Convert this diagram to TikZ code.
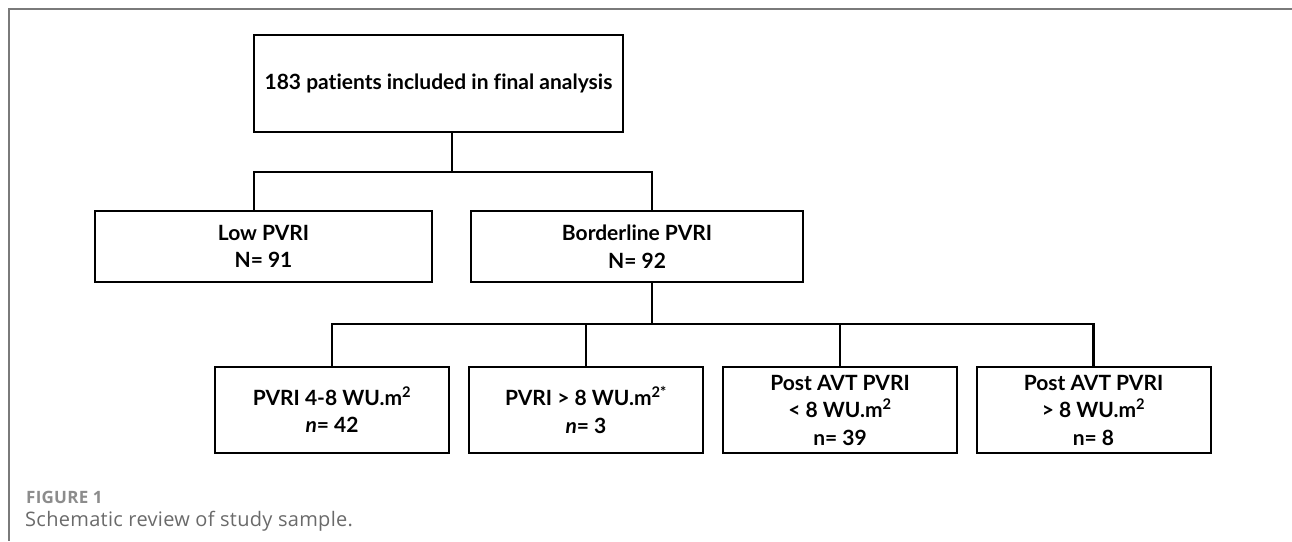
\documentclass[tikz,border=0pt]{standalone}
\usepackage{fontspec}
\setmainfont{Lato}[Ligatures=NoCommon]
\newfontfamily\capfont{Open Sans}[LetterSpace=1.5]
\usetikzlibrary{positioning}
\definecolor{framegray}{HTML}{7A7A7A}
\definecolor{figgray}{HTML}{8C8C8C}
\definecolor{capgray}{HTML}{6A6A6A}

\begin{document}
\begin{tikzpicture}[x=1pt,y=-1pt,
        box/.style={draw,line width=2pt,align=center,inner sep=0pt,
            font=\fontsize{21}{27.5}\selectfont\bfseries},
        low/.style={box,minimum width=234pt,minimum height=86pt},
        link/.style={line width=2.6pt}]
		\useasboundingbox (0,0) rectangle (1292,541);
		\draw [framegray,line width=1.2pt] (1292,9) -- (9,9) -- (9,541);
		\node [box,minimum width=369pt,minimum height=97pt] (1) at (438.5,83.5) {183 patients included in final analysis};
		\node [box,minimum width=337pt,minimum height=71pt] (2) at (263.5,246.5) {Low PVRI\\N= 91};
		\node [box,minimum width=332pt,minimum height=71pt] (3) at (637,246.5) {Borderline PVRI\\N= 92};
		\node [low] (4) at (332,410) {PVRI 4-8 WU.m\textsuperscript{2}\\\textit{n}= 42};
		\node [low] (5) at (586,410) {PVRI > 8 WU.m\textsuperscript{2*}\\\textit{n}= 3};
		\node [low] (6) at (840,410) {Post AVT PVRI\\< 8 WU.m\textsuperscript{2}\\n= 39};
		\node [low] (7) at (1093.5,410) {Post AVT PVRI\\> 8 WU.m\textsuperscript{2}\\n= 8};
		\coordinate (a) at (452,172);
		\coordinate (b) at (254,172);
		\coordinate (c) at (652,172);
		\coordinate (d) at (652,324);
		\draw [link] (1.south -| a) -- (a);
		\draw [link] (b |- 2.north) -- (b) -- (c) -- (c |- 3.north);
		\draw [link] (3.south -| d) -- (d);
		\draw [link] (4.north) -- (4.north |- d) -- (7.north |- d) -- (7.north);
		\draw [link] (5.north) -- (5.north |- d);
		\draw [link] (6.north) -- (6.north |- d);
		\node [anchor=west,inner sep=0pt,text=figgray,font=\capfont\fontsize{17}{19}\selectfont\bfseries] (fig) at (26,497) {FIGURE 1};
		\node [anchor=west,inner sep=0pt,text=capgray,font=\capfont\fontsize{20}{23}\selectfont] (cap) at (25,521) {Schematic review of study sample.};
\end{tikzpicture}
\end{document}
